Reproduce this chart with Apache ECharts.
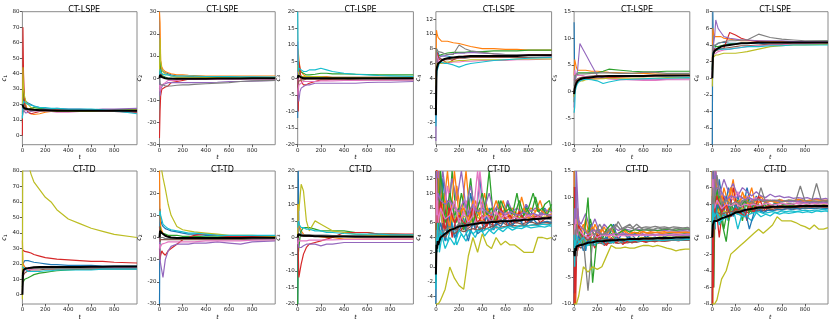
<!DOCTYPE html>
<html>
<head>
<meta charset="utf-8">
<script src="https://cdn.jsdelivr.net/npm/echarts@6/dist/echarts.min.js"></script>
<style>
html,body{margin:0;padding:0;background:#fff;}
#chart{width:831px;height:323px;}
</style>
</head>
<body>
<div id="chart"></div>
<script>
// ---------- time grids ----------
const T_SMOOTH = [0,5,10,20,30,50,75,100,150,200,250,300,400,500,600,700,800,999];
const T_NOISY = [0,5,10,15,20,40,80,120,160,200,240,280,320,360,400,440,480,520,560,600,640,680,720,760,800,840,880,920,960,999];
const T_NOISY2 = [0,3,8,13,25,30,60,100,140,180,220,260,300,340,380,420,460,500,540,580,620,660,700,740,780,820,860,900,940,980,999];

// ---------- tick labels ----------
const X_TICKS = [0,200,400,600,800];
const TICKS_C1 = [0,10,20,30,40,50,60,70,80];
const TICKS_C2 = [-30,-20,-10,0,10,20,30];
const TICKS_C3 = [-20,-15,-10,-5,0,5,10,15,20];
const TICKS_C4 = [-4,-2,0,2,4,6,8,10,12];
const TICKS_C5 = [-10,-5,0,5,10,15];
const TICKS_C6 = [-8,-6,-4,-2,0,2,4,6,8];

const TITLES = ['CT-LSPE','CT-TD'];
const Y_NAMES = ['1','2','3','4','5','6'];

// ---------- CT-LSPE ----------
const lspeC1 = [
 [10,25,22,24,22,21,20,19,18,17,17,16.5,16.5,16,16,15.5,15.5,15],
 [15,33,28,22,20,15,14,13.5,14,15,15.5,16,16,16.5,16,16,16,16],
 [8,40,30,20,18,17,17.5,18,17.5,17,17,16.5,16.5,16.5,16.5,16,16.5,16.5],
 [0,70,40,20,17,15,14,14.5,15.5,16,16,16.5,16,16,15.5,15.5,15.5,15],
 [12,18,16,15,14.5,15,15.5,16,16.5,17,17,17.5,17,17,16.5,17,17,17.5],
 [14,22,20,19,18,17,17,16.5,16.5,16,16,16,16,15.5,15.5,15.5,15.5,15.5],
 [16,20,18,17,16,16.5,16,16,15.5,15.5,15.5,15,15,15.5,15.5,15.5,16,16],
 [13,15,16,17,17,16.5,16,16,16,16,16,16,16,16,16,16,16,16],
 [20,44,30,25,22,20,18,17,16,16,16,15.5,15.5,15.5,15.5,16,16,16.5],
 [11,20,22,23,21,20,19.5,19,18,18,17.5,17.5,17,17,17,16.5,16,14]
];
const lspeC1Mean = [20,20,18,17.5,17.2,17,16.8,16.6,16.3,16.2,16.1,16,16,16,16,16,16,16];

const lspeC2 = [
 [5,12,6,4,3,2.5,2,1.5,1,1,0.8,0.7,0.6,0.5,0.5,0.4,0.4,0.3],
 [30,25,8,5,4,3,2.5,2,1.5,1.5,1.3,1.2,1,1,1,1,1,1],
 [-5,10,5,2,1,0.5,0,0,0,0,0,0,0,0,0.2,0.2,0.3,0.3],
 [-27,-15,-8,-5,-4.5,-4,-3.5,-2,-1.5,-1,-0.5,-0.5,0,0,0,0,0,0],
 [2,-8,-5,-4,-3,-2.5,-2,-2,-2,-2,-2,-2,-2,-1.8,-1.5,-1.5,-1.3,-1],
 [0,5,3,1,0.5,0,0,0,-0.5,-0.5,-0.5,-0.5,-0.3,-0.3,-0.3,-0.2,-0.2,-0.2],
 [-3,-6,-4,-3,-3,-2,-1,-1,-1,-0.5,-0.5,-0.5,-0.5,-0.5,-0.5,-0.5,-0.5,-0.5],
 [0,-2,-3,-3,-3,-3.5,-3.5,-3.5,-3.2,-3,-3,-2.8,-2.5,-2.2,-2,-1.5,-1.2,-1],
 [3,18,8,4,3,2,1.5,1,0.5,0.5,0.5,0.5,0.3,0.3,0.3,0.3,0.3,0.3],
 [1,4,3,2,2,1.5,1.5,1,1,1,1,1,0.8,0.8,0.7,0.6,0.6,0.5]
];
const lspeC2Mean = [0,1.5,1,0.5,0.2,0,-0.2,-0.3,-0.3,-0.3,-0.3,-0.2,-0.2,-0.1,-0.1,-0.1,0,0];

const lspeC3 = [
 [-12,3,2,1,0.5,0,0,0,0,0,0,0,0,0,0,0,0,0],
 [9,8,6,3,2,1,0.5,0.5,0.5,0.5,0.5,0.3,0.3,0.3,0.3,0.3,0.3,0.3],
 [2,5,3,2,1.5,1.5,1,1,1.2,1.5,1.5,1.3,1.3,1.2,1.1,1,1,1],
 [0,-10,5,3,-1,-2,-2,-1.5,-1,-0.5,-0.5,-0.3,-0.2,-0.2,0,0,0,0],
 [11,-5,-7,-4,-3,-2.5,-2,-2,-1.5,-1.5,-1.5,-1.5,-1.5,-1.5,-1.3,-1.2,-1.2,-1],
 [-3,-1,-1,-0.5,-0.5,-0.5,-0.3,-0.3,-0.3,-0.3,-0.3,-0.3,-0.3,-0.5,-0.5,-0.5,-0.5,-0.5],
 [-5,-3,-2,-2,-1.5,-1,-1,-1,-1,-0.8,-0.8,-0.8,-0.7,-0.7,-0.6,-0.6,-0.6,-0.5],
 [0,1,1,0.5,0.5,0.3,0.3,0.3,0.3,0.3,0.3,0.3,0.3,0.3,0.3,0.3,0.3,0.3],
 [4,2,1,1,0.5,0.5,0.5,0.5,0.5,0.5,0.2,0.2,0.2,0.2,0.2,0.2,0.2,0.2],
 [20,2,3,2.5,2.5,2,2,2.5,2.5,3,2.5,2,1.5,1.2,1,0.8,0.7,0.5]
];
const lspeC3Mean = [0,0.8,0.5,0.3,0.2,0,0,0,0,0,0,0,0,0,0,0,0,0];

const lspeC4 = [
 [-2,6,7,7.5,7,7,7,7,6.8,6.8,6.8,6.9,7,7,7,7.1,7.1,7.2],
 [2,10.5,10,9.5,9.5,9,9,9,8.8,8.7,8.5,8.3,8,8,7.9,7.9,7.8,7.8],
 [4,8,7.5,7,7,7.2,7.3,7.4,7.5,7.5,7.5,7.6,7.6,7.7,7.7,7.7,7.8,7.8],
 [0,7,7.5,7,6.5,6.5,6.3,6,6.5,6.8,7,7,7,7.1,7.1,7.1,7.2,7.2],
 [-4.5,5,6,6.5,6.8,7,7,7.2,7.3,7.4,7.4,7.5,7.4,7.3,7.2,7.2,7.1,7],
 [1,6,6.5,6.8,6.8,6.6,6.5,6.5,6.6,6.7,6.7,6.8,6.8,6.8,6.8,6.8,6.8,6.8],
 [3,7.5,7,6.5,6,6,6,6,6.2,6.2,6.3,6.3,6.4,6.4,6.4,6.5,6.5,6.6],
 [5,8,7.8,7.6,7.5,7.5,7.3,7.2,7.2,8.5,8,7.7,7.5,7.3,7.2,7.2,7.1,7.1],
 [3,5.5,6,6,6,6,6.2,6.2,6.3,6.4,6.4,6.5,6.5,6.5,6.5,6.6,6.6,6.6],
 [-2.5,4,5,5.5,6,6.2,6,6,5.8,5.5,5.8,6,6.2,6.4,6.5,6.6,6.7,6.8]
];
const lspeC4Mean = [-1,5,5.5,6,6.2,6.4,6.6,6.7,6.8,6.9,6.9,7,7,7,7,7,7.1,7.1];

const lspeC5 = [
 [13,3,2,1.5,1.8,2,2.2,2.5,2.7,2.8,2.8,2.9,2.9,2.9,2.9,2.9,2.9,3],
 [3,6,5.5,4.5,4,4,4,4,3.8,3.8,3.7,3.6,3.5,3.4,3.4,3.3,3.3,3.3],
 [-2,2,3,3,3.5,3.5,3.5,3.5,3.5,3.5,3.8,4.2,4,3.8,3.7,3.7,3.8,3.8],
 [-1,1,2,2,2,2,2.5,2.5,2.4,2.4,2.5,2.6,2.7,2.8,2.8,2.9,3,3],
 [-3,1,2,3,4,9,8,7,5,3,2.5,2.4,2.3,2.2,2.2,2.2,2.3,2.4],
 [0,1.5,2,2.2,2.4,2.6,2.7,2.8,2.9,3,3,3,3,3,3,3,3,3],
 [2,4,3.5,3,3,3,3,2.8,2.7,2.6,2.5,2.4,2.2,2.2,2.1,2.1,2.2,2.2],
 [1,3,3,3,3.2,3.3,3.3,3.3,3.4,3.5,3.5,3.5,3.4,3.4,3.6,3.6,3.4,3.4],
 [-1,0,1,1.5,1.8,2,2,2.2,2.3,2.4,2.4,2.5,2.5,2.5,2.5,2.5,2.6,2.6],
 [-4,-3,0,1,1.5,2,2.2,2.3,2.2,2,1.5,1.8,2.2,2.3,2.4,2.5,2.5,2.6]
];
const lspeC5Mean = [-0.5,0.5,1,1.6,2,2.3,2.5,2.6,2.7,2.8,2.8,2.9,2.9,2.9,2.9,3,3,3];

const lspeC6 = [
 [-8,8,3,3.5,4,4.2,4.3,4.3,4.2,4.2,4.2,4.2,4.2,4.1,4.1,4.1,4.1,4.1],
 [2,6,5.5,5,5,5,5,4.8,4.7,4.6,4.5,4.5,4.5,4.4,4.4,4.4,4.4,4.4],
 [1,4,4,4,3.8,3.8,3.9,4,4.1,4.1,4.2,4.2,4.3,4.3,4.3,4.4,4.4,4.5],
 [0,3,3.5,3.5,3.5,3.6,3.6,3.6,5.5,5.2,4.8,4.6,4.4,4.3,4.3,4.2,4.2,4.2],
 [0,3,4,5,7,6,5.5,5,4.8,4.7,4.6,4.6,4.5,4.5,4.5,4.4,4.4,4.4],
 [1,3,3,3.2,3.3,3.4,3.5,3.6,3.7,3.8,3.9,3.9,4,4.1,4.1,4.2,4.2,4.2],
 [0,2.5,3,3,3,3.2,3.3,3.4,3.5,3.6,3.7,3.8,3.9,4,4,4.1,4.1,4.2],
 [2,4,4,4,4,4.2,4.3,4.4,4.5,4.5,4.6,4.6,5.3,4.9,4.7,4.6,4.5,4.5],
 [-1,2,2.5,2.7,2.8,2.8,2.9,3,3,3,3.1,3.2,3.5,3.8,3.9,4,4,4.1],
 [1,3,3.2,3.3,3.4,3.5,3.5,3.5,3.5,3.6,3.7,3.8,3.8,3.9,3.9,4,4,4]
];
const lspeC6Mean = [0,2.5,3,3.3,3.5,3.6,3.8,3.9,4,4.1,4.2,4.2,4.3,4.3,4.3,4.3,4.3,4.3];

// ---------- CT-TD ----------
const tdC1 = [
 [10,20,21,22,22,22,21.5,21,20.5,20,19.5,19.5,19,19,19,18.5,18.5,18.5],
 [35,20,19,18,17,16.5,16.5,17,17,17.5,17.5,17.5,17.5,17.5,17.5,17.5,17.5,17.5],
 [5,8,9,10,10,11,12,13,14,14.5,15,15.5,16,16.5,16.5,17,17,17],
 [29,29,28.5,28,28,27.5,27,26,25,24,23.5,23,22.5,22,21.5,21.5,21,20.5],
 [12,15,16,16.5,17,17.5,17.5,17.5,17.5,17.5,17.5,17.5,17.5,17.5,17.5,17.5,17.5,17.5],
 [8,12,13,14,15,15.5,16,16,16,16.5,16.5,16.5,16.5,16.5,16.5,16.5,16.5,16.5],
 [0,14,15,16,16,16,16.5,16.5,17,17,17,17,17,17,17,17,17,17],
 [15,16,17,17,17,17,17,17,17,17,17,17,17,17,17,17,17,17],
 [-3,150,130,110,95,85,78,73,68,63,60,55,49,46,43,41,39,37],
 [18,19,18,17,16,15,15,15,15,15.5,15.5,16,16,16,16,16.5,16.5,16.5]
];
const tdC1Mean = [0,14,16,16.5,17,17.2,17.5,17.8,18,18,18,18,18,18,18.1,18.1,18.2,18.2];

const tdC2 = [
 [-30,13,8,6,5,4,3.5,3,2.5,2,1.5,1.5,1,1,0.5,0.5,0.5,0.5],
 [30,10,5,3,2,1,0.5,0,0,0,0,0,0,0,0,0,0,0],
 [-10,5,3,2,2,1.5,1,1,1,0.5,0.5,0.5,0.3,0.3,0.3,0.3,0.3,0.3],
 [-5,-10,-8,-6,-7,-8,-6,-5,-3,-1,0,1,1.5,1,0.5,0.5,0.5,0.5],
 [0,-10,-12,-15,-18,-10,-6,-4,-3,-3,-3,-2.5,-2.5,-2,-2.5,-3,-2,-1.5],
 [5,-2,-1,-1,-1,-1,-1,-1,-1,-1,-1,-1,-1,-1,-1,-1,-1,-1],
 [-3,-5,-4,-3,-3,-2.5,-2,-2,-2,-2,-2,-2,-1.5,-1.5,-1.5,-1.5,-1.2,-1],
 [2,0,0,0,0,-0.5,-0.5,-0.5,-0.5,-0.5,-0.5,-0.5,-0.5,-0.5,-0.5,-0.5,-0.5,-0.5],
 [30,35,33,30,27,22,15,10,5,3.5,3,2.5,2,1.5,1,1,1,0.5],
 [10,12,10,8,6,5,4,3.5,3,2.5,2,2,1.5,1,1,1,1,1]
];
const tdC2Mean = [0,3,2.5,2,1.5,0.8,0.3,0,-0.2,-0.2,-0.2,-0.2,-0.2,-0.2,-0.2,-0.2,-0.1,-0.1];

const tdC3 = [
 [-20,20,5,2,1,0.5,0.5,0.5,0.5,0.5,0.5,0.5,0.5,0.5,0.5,0.3,0.3,0.3],
 [10,5,4,3,2,1,0.5,0.5,0.5,0.2,0,0,-0.5,-0.5,-0.5,-0.5,-0.5,-0.5],
 [-20,-5,-3,0,2,3,3,3,2.5,2,2,2,2,1.5,1.5,1,1,0.8],
 [5,-5,-12,-10,-8,-5,-3,-2,-1.5,-1,-0.5,0,1.5,1.5,1.5,1,1,1],
 [0,-2,-3,-3,-3,-2.5,-2,-2,-2,-2.5,-2,-2,-1.5,-1.5,-1.5,-1.5,-1.5,-1.5],
 [2,1,0.5,0.5,0.5,0.5,0.3,0.3,0.3,0.3,0.3,0.3,0.3,0.3,0.3,0.3,0.3,0.3],
 [-2,-1,-1,-1,-1,-1,-1,-0.8,-0.8,-0.8,-0.7,-0.7,-0.6,-0.6,-0.5,-0.5,-0.5,-0.5],
 [3,1,1,1,1,0.8,0.8,0.8,0.7,0.7,0.7,0.6,0.6,0.6,0.5,0.5,0.5,0.5],
 [0,10,8,12,16,14,5,2,5,4,3,2,1.5,1,0.8,0.7,0.6,0.5],
 [3,5,4,3.5,3,3,2.5,2.5,2,2,1.5,1.5,1.2,1,1,1,0.8,0.8]
];
const tdC3Mean = [0,1,0.8,0.7,0.6,0.5,0.5,0.5,0.4,0.4,0.3,0.3,0.3,0.2,0.2,0.2,0.2,0.2];

const tdC4 = [
 [-5,13,5,8,4,6,3.5,7,4,5,6,3.5,6,4.5,5,7,5,6,5.5,6.5,5.5,6,6.5,5.5,6,6.5,5.8,6,6.2,6],
 [0,15,10,6,12,8,9,5,13,7,8,6,9,7.5,6,8,7,9,7,8,6.5,7.5,7,8,6.5,7,8,7.5,7,7.2],
 [13,2,9,12,5,13,6,10,7,8,5,9,6,8,10,7,8,6,9,7.5,8,7,9,7,8,10,7.5,8,7,8.5],
 [8,14,4,10,6,9,5,8,6,7,6,5.5,8,6,7,5.5,7,6,8,6.5,7,6,7.5,6.5,7,6.5,7,6.5,6.8,6.5],
 [12,13,8,9,10,9,8.5,9,8,7.5,9,7,8.5,7.5,8,7.5,7,8,7.5,7,7.5,7.2,7,7.5,7,7.3,7,7.2,7.1,7],
 [3,6,4,5,3.5,4.5,4,5,4.5,5,4.8,5,5.2,5,5.3,5.2,5.5,5.3,5.4,5.5,5.5,5.6,5.5,5.7,5.6,5.7,5.8,5.8,5.8,5.9],
 [6,12,7,9,6,8,6.5,7,9,6,7.5,6,7,13,6.5,7,6,7.5,6.5,7,6.2,6.8,6.5,6.6,7,6.5,6.8,6.6,6.7,6.6],
 [2,5,3,4,5,4.5,5,5.5,5,6,5.5,6,5.8,6,6.2,6,6.3,6.1,6.4,6.2,6.3,6.4,6.3,6.5,6.4,6.5,6.6,6.5,6.6,6.5],
 [-5,-5,-5,-5,-5,-4.5,-3,0,-1.5,-2.5,-3,1.5,4,2,4.5,3,2.5,4,3,3.5,3,3,2.5,2,2,2,4,4,3.8,4],
 [-3,4,2,6,3,5,2.5,4,3,5,4,5,4.5,5,4.8,5.2,5,5.5,5.2,5.4,5.5,5.3,5.6,5.5,5.6,5.7,5.6,5.8,5.7,5.8]
];
const tdC4More = [
 [2,10,4,9,13,6,12,5,9,4,8,5,10,6,12,6,8,5,7,6,9,5.5,7,6,8.5,6,7,6.5,8,6.5,7],
 [13,6,14,3,8,13,7,13,6,11,7,13,6,9,7,10,6.5,8,6,9,7,8,6.5,9.5,7,8,7.5,9,7,8,7.5],
 [-2,8,12,5,9,7,10,4.5,13,6,10,7,12,6,8,7,13,6,9,7,8.5,7,10,6.5,8,7,9.5,7,8.5,9,7.5],
 [5,13,2,8,4,10,5,9,4,7,5,6,8,5,6.5,5,7,5.5,6,7,5.5,6.5,6,7,6,6.5,7,6,6.5,6.8,6.5],
 [13,8,13,10,13,9,13,8,12,9,13,8,11,7.5,9,8,10,7.5,8.5,7,9,7.5,8,7.2,8.5,7.5,8,7.2,7.8,7.5,7.4],
 [0,4,6,3,5,4,6,4.5,5.5,5,6,5,5.5,6,5,5.5,6,5.5,5.8,6,5.6,5.9,6,5.8,6,6.1,5.9,6,6.1,6,6.1],
 [8,12,6,13,7,9,6,11,7,8,6,9,7,6,13,7,6.5,8,6.5,7,7.5,6.8,7,7.5,6.8,7.2,7,6.9,7.2,7,7],
 [4,7,5,6,4,5,4.5,6,5,5.5,6,5,6.5,5.5,6,5.8,6.2,6,6.3,6.1,6.2,6.4,6.2,6.3,6.5,6.3,6.5,6.4,6.6,6.5,6.4],
 [6,9,5,7,6,8,6,7.5,6,7,6.5,7,6,7,6.5,7,6.8,6.5,7,6.6,6.8,6.7,6.9,6.6,6.8,6.7,6.8,6.7,6.8,6.7,6.8],
 [3,1,5,3,6,2,5,3.5,6,3,4.5,3.5,5,4,5.5,4.2,5,4.5,5.2,4.8,5.4,5,5.3,5.2,5.5,5.3,5.4,5.5,5.4,5.6,5.5]
];
const tdC4Mean = [-1,3,2.5,3.5,3,4,4.5,5,5.2,5.5,5.6,5.7,5.8,5.9,6,6,6.1,6.1,6.2,6.2,6.2,6.3,6.3,6.4,6.4,6.5,6.5,6.6,6.6,6.7];

const tdC5 = [
 [-10,15,3,2,1,3,0,2,1,3,2,2.5,1.5,2.5,2,2,2.5,2,2.2,2.3,2,2.4,2.3,2.2,2.4,2.3,2.5,2.4,2.5,2.5],
 [15,-10,7,4,6,3,5,3,4.5,3,4,3,4.2,3,3.5,3.8,3,3.5,3.2,3.6,3.3,3.4,3.5,3.3,3.4,3.5,3.4,3.4,3.5,3.4],
 [10,-5,3,5,2,4,1,10,-6,3,2,4,5,3,3.5,4,3.5,4,3.8,4,3.9,4,3.8,4,4.1,4,3.9,4,4.1,4],
 [-10,12,-8,4,2,5,2,3,1.5,3,2,1,2.5,1.5,2,1.5,2,1.8,2,1.7,2,1.9,2,1.8,2,2.1,2,2,2.1,2],
 [5,8,6,4,15,5,4,3,4,3.5,3,3.2,3,3.3,3.1,3.2,3,3.1,3,3,2.9,3,2.9,3,3,2.9,3,3,3,3],
 [0,3,1,2,1.5,2,2.5,2,2.3,2,2.2,2.1,2.3,2,2.2,2,2.1,2.1,2,2.1,2,2.1,2,2.1,2,2,2.1,2,2,2],
 [2,5,3,6,2,4,3,2.5,3,2.5,3,2.8,3,2.7,2.9,2.8,2.9,2.8,3,2.9,3,2.9,3,2.9,3,3,2.9,3,3,3],
 [0,2,4,3,5,3,2,-7.5,2,4,3,3.5,4,5,4,4.5,5,4,4.5,4,4.2,4,4.3,4.1,4.2,4,4.2,4.1,4,4.1],
 [-10,-10,-10,-10,-10,-8.5,-3,-4,-3,-3.5,-3,-1,1,0.5,0.5,0.7,0.5,0.5,0.8,1,1,0.8,1,0.8,0.5,0.3,0,0.2,0.3,0.3],
 [3,-3,2,1,3,1.5,2.5,1,2,1.5,2,1.8,1.5,2,1.8,2,1.9,2,1.8,2,1.9,2,2,1.9,2,2.1,2,2,2.1,2.1]
];
const tdC5More = [
 [5,-8,8,2,6,1,4,0,5,2,4,1.5,3,5,2,3.5,2.5,3,2,3.5,2.5,3,2.8,3.2,2.6,3,2.8,3,2.9,3,2.8],
 [-10,10,-3,7,3,8,2,6,2,5,3,4.5,2.5,3.5,3,4,3,3.5,3.2,3.8,3.3,3.6,3.4,3.5,3.6,3.4,3.5,3.6,3.5,3.5,3.5],
 [12,3,-10,5,0,4,3,1,6,2,3,2,4,2.5,3,3.2,2.8,3,3.4,3,3.1,3.3,3,3.2,3.1,3.3,3.2,3.1,3.2,3.3,3.2],
 [-5,6,2,-10,4,0,3,1.5,2.5,0.5,3,1,2,1.5,2.5,1.2,2,1.5,1.8,2,1.6,1.9,1.7,2,1.8,1.9,2,1.9,2,2,2],
 [8,15,4,12,7,6,5,7,4,6,3.5,5,4,4.5,3.8,4.2,4,3.8,4.1,3.9,4,3.8,3.9,3.8,3.9,3.7,3.8,3.7,3.8,3.7,3.8],
 [1,2,0,1,-1,1,0.5,1.5,1,1.2,1.5,1.2,1.4,1.6,1.4,1.6,1.5,1.7,1.6,1.8,1.7,1.8,1.8,1.9,1.8,1.9,2,1.9,2,2,2],
 [4,-3,5,1,3,2,3.5,2,3,4,2.5,3.5,2.8,3.2,3,3.3,3.1,3.2,3,3.2,3.1,3.2,3.1,3.2,3.2,3.1,3.2,3.2,3.1,3.2,3.2],
 [2,6,3,5,2,4,2.5,3.5,4,3,5,3.5,4,3.5,5.5,4,4.5,4.2,5,4.3,4.5,4.4,4.6,4.4,4.5,4.3,4.5,4.4,4.3,4.4,4.2],
 [0,4,1,3,1.5,2.5,1,2,1.5,2.5,1.8,2.2,2,2.4,2.1,2.3,2.2,2.4,2.3,2.5,2.4,2.5,2.4,2.6,2.5,2.6,2.5,2.6,2.6,2.7,2.6],
 [-8,2,4,-2,6,1,3,0.5,2.5,1,2,1.2,2.2,1.5,2,1.6,1.9,1.8,2,1.9,2.1,2,2.1,2,2.2,2.1,2.2,2.2,2.3,2.2,2.3]
];
const tdC5Mean = [0,-1,0.5,0,0.8,1,1.2,1.5,1.6,1.8,1.8,1.9,2,2,2.1,2.1,2.2,2.2,2.2,2.3,2.3,2.3,2.4,2.4,2.4,2.4,2.5,2.5,2.5,2.5];

const tdC6 = [
 [-8,8,3,6,2,4,3,5,2.5,4,3,3.5,1,3,3.5,3,3.3,3.2,3.4,3.3,3.5,3.4,3.5,3.4,3.6,3.5,3.5,3.6,3.5,3.5],
 [8,-8,6,2,7,4,5,3.5,6,4,4.5,5,4,4.5,4.2,4.5,4.3,4.4,4.2,4.5,4.3,4.4,4.5,4.3,4.4,4.5,4.3,4.4,4.4,4.3],
 [2,8,0,5,3,6,2,-0.5,4,3,3.5,4.5,3,4,3.5,4,3.7,3.8,3.6,3.8,3.7,3.9,3.8,3.9,3.7,3.8,3.9,3.8,3.9,3.8],
 [-8,6,-6,4,3,5,3,4,2.5,3.5,3,2.5,4,3,5,3.5,3.8,3.6,3.7,3.8,3.6,3.7,3.8,3.7,3.8,3.7,3.8,3.8,3.7,3.8],
 [6,8,4,7,5,6,5.5,4.5,5,4.8,5,4.5,4.8,4.5,4.6,4.5,4.4,4.5,4.4,4.3,4.4,4.3,4.4,4.3,4.2,4.3,4.2,4.3,4.2,4.2],
 [0,3,2,3,2.5,3,2.8,3,3.1,3.2,3.3,3.3,3.4,3.4,3.5,3.5,3.5,3.6,3.5,3.6,3.6,3.6,3.7,3.6,3.7,3.7,3.7,3.7,3.7,3.7],
 [3,7,4,5,3.5,4.5,3.5,4,3.8,4.2,3.7,4,3.9,4,3.8,4,4.1,3.9,4,4.1,4,4,4.1,4,4.1,4,4.1,4,4.1,4],
 [4,6,3,4,5,7.5,4,4.5,4,4.3,4,4.5,4.2,4.4,4.6,4.3,4.5,4.4,4.5,4.3,4.4,4.5,4.4,6.2,4.4,4.3,4.4,4.3,4.4,4.3],
 [-8,-8,-8,-8,-8,-7.5,-5,-4,-2,-1.5,-1,-0.5,0,0.5,1,0.5,1,1.5,2.5,2,2,2,1.8,1.5,1.3,1,1.5,1,1,1.2],
 [1,4,2,3,2.5,3,2,2.5,2.8,3,2.7,2.5,2.8,3,3.1,2.9,3,3.1,3,3.2,3.1,3.2,3.1,3.2,3.3,3.2,3.3,3.3,3.4,3.3]
];
const tdC6More = [
 [5,-8,7,2,6,3,7,3,6,2.5,5,3,6,3.5,5,3,4.5,3.5,4.2,3.6,4,3.7,3.9,3.6,3.8,3.7,3.8,3.7,3.8,3.7,3.8],
 [-8,8,1,6,3,8,2,6,4,7,3,5.5,4,6,3.5,5,4,4.5,4.2,4.6,4.3,4.5,4.4,4.6,4.5,4.4,4.5,4.6,4.5,4.5,4.5],
 [8,0,5,-6,7,2,5,1,4,3,4.5,2,5,3,4,3.5,4.2,3.8,4,4.2,3.9,4.1,4,4.2,4.1,4,4.2,4.1,4.2,4.1,4.2],
 [2,6,-2,8,1,4,0,5,2,6,3,4,2,4.5,3,3.8,3.2,4,3.5,3.8,3.6,3.9,3.7,3.8,3.7,3.9,3.8,3.9,3.8,3.9,3.8],
 [7,8,5,8,6,8,5,7,5.5,6.5,5,6,5.5,5,5.5,5,4.8,5.2,4.9,5,4.8,4.9,4.7,4.8,4.7,4.8,4.6,4.7,4.6,4.7,4.6],
 [0,2,1,2.5,1.5,2.5,2,2.8,2.5,3,2.8,3.1,3,3.2,3.1,3.3,3.2,3.4,3.3,3.4,3.4,3.5,3.4,3.5,3.5,3.5,3.6,3.5,3.6,3.6,3.6],
 [4,7,3,6,4,5,6,4,5,4.5,5.5,4,5,4.5,4.8,4.3,4.6,4.4,4.5,4.3,4.4,4.3,4.4,4.2,4.3,4.2,4.3,4.2,4.3,4.2,4.3],
 [3,5,4,6,3,5,3.5,4.5,3,4,3.5,4.5,3.8,4.2,4,6,4.2,4.4,4.3,4.5,4.4,4.5,4.3,4.4,4.5,4.4,4.5,6.5,4.5,4.4,4.5],
 [1,3,2,4,2.5,3.5,2.8,3.2,3,3.4,3.2,3.5,3.3,3.6,3.4,3.5,3.6,3.5,3.7,3.6,3.7,3.8,3.7,3.8,3.8,3.9,3.8,3.9,3.9,4,3.9],
 [-2,5,0,3,1,4,1.5,3,2,3.5,1,3,2.5,2,3,2.5,2.8,2.6,3,2.8,3,2.9,3,3.1,3,3.1,3,3.2,3.1,3.2,3.1]
];
const tdC6Mean = [0,1.5,1.5,2,1.8,2,2.3,2.5,2.7,3,3.1,3.3,3.4,3.5,3.6,3.6,3.6,3.7,3.7,3.7,3.7,3.7,3.7,3.8,3.8,3.8,3.8,3.8,3.8,3.8];

// ---------- axis limits ----------
const Y_MIN_TOP = [-6,-30,-20,-5,-10,-8];
const Y_MAX_TOP = [80,30,20,13,15,8];
const Y_MIN_BOT = [-6,-30,-20,-5,-10,-8];
const Y_MAX_BOT = [80,30,20,13,15,8];
const X_MIN = 0, X_MAX = 999;

// ---------- assemble ----------
const COLORS = ['#1f77b4','#ff7f0e','#2ca02c','#d62728','#9467bd','#8c564b','#e377c2','#7f7f7f','#bcbd22','#17becf'];
const panels = [
  {batches: [[T_SMOOTH, lspeC1]], mean: lspeC1Mean, t: T_SMOOTH, ticks: TICKS_C1, min: Y_MIN_TOP[0], max: Y_MAX_TOP[0], w: 1.1},
  {batches: [[T_SMOOTH, lspeC2]], mean: lspeC2Mean, t: T_SMOOTH, ticks: TICKS_C2, min: Y_MIN_TOP[1], max: Y_MAX_TOP[1], w: 1.1},
  {batches: [[T_SMOOTH, lspeC3]], mean: lspeC3Mean, t: T_SMOOTH, ticks: TICKS_C3, min: Y_MIN_TOP[2], max: Y_MAX_TOP[2], w: 1.1},
  {batches: [[T_SMOOTH, lspeC4]], mean: lspeC4Mean, t: T_SMOOTH, ticks: TICKS_C4, min: Y_MIN_TOP[3], max: Y_MAX_TOP[3], w: 1.1},
  {batches: [[T_SMOOTH, lspeC5]], mean: lspeC5Mean, t: T_SMOOTH, ticks: TICKS_C5, min: Y_MIN_TOP[4], max: Y_MAX_TOP[4], w: 1.1},
  {batches: [[T_SMOOTH, lspeC6]], mean: lspeC6Mean, t: T_SMOOTH, ticks: TICKS_C6, min: Y_MIN_TOP[5], max: Y_MAX_TOP[5], w: 1.1},
  {batches: [[T_SMOOTH, tdC1]], mean: tdC1Mean, t: T_SMOOTH, ticks: TICKS_C1, min: Y_MIN_BOT[0], max: Y_MAX_BOT[0], w: 1.2},
  {batches: [[T_SMOOTH, tdC2]], mean: tdC2Mean, t: T_SMOOTH, ticks: TICKS_C2, min: Y_MIN_BOT[1], max: Y_MAX_BOT[1], w: 1.2},
  {batches: [[T_SMOOTH, tdC3]], mean: tdC3Mean, t: T_SMOOTH, ticks: TICKS_C3, min: Y_MIN_BOT[2], max: Y_MAX_BOT[2], w: 1.2},
  {batches: [[T_NOISY2, tdC4More], [T_NOISY, tdC4]], mean: tdC4Mean, t: T_NOISY, ticks: TICKS_C4, min: Y_MIN_BOT[3], max: Y_MAX_BOT[3], w: 1.3},
  {batches: [[T_NOISY2, tdC5More], [T_NOISY, tdC5]], mean: tdC5Mean, t: T_NOISY, ticks: TICKS_C5, min: Y_MIN_BOT[4], max: Y_MAX_BOT[4], w: 1.3},
  {batches: [[T_NOISY2, tdC6More], [T_NOISY, tdC6]], mean: tdC6Mean, t: T_NOISY, ticks: TICKS_C6, min: Y_MIN_BOT[5], max: Y_MAX_BOT[5], w: 1.3}
];

const FONT = 'DejaVu Sans';
const GL0 = 21.3, GSTEP = 138.2, GW = 115.7, GH = 133, GT = [11.7, 171];

const grids = [], xAxes = [], yAxes = [], series = [], titles = [];
panels.forEach((p, k) => {
  const row = Math.floor(k / 6), col = k % 6;
  const left = GL0 + col * GSTEP;
  grids.push({left: left, top: GT[row], width: GW, height: GH, show: true,
    borderColor: '#8a8a8a', borderWidth: 1, backgroundColor: 'transparent', containLabel: false});
  titles.push({text: TITLES[row], left: left + GW / 2, top: GT[row] - 10.5, textAlign: 'center',
    textStyle: {fontFamily: FONT, fontSize: 8, fontWeight: 'normal', color: '#000'}});
  xAxes.push({type: 'value', gridIndex: k, min: X_MIN, max: X_MAX,
    name: 't', nameLocation: 'middle', nameGap: 10,
    nameTextStyle: {fontFamily: FONT, fontSize: 6, fontStyle: 'italic', color: '#000'},
    axisLine: {show: false, onZero: false}, splitLine: {show: false},
    axisTick: {show: true, inside: false, length: 2.5, lineStyle: {color: '#333', width: 0.8}, customValues: X_TICKS},
    axisLabel: {fontFamily: FONT, fontSize: 5.5, color: '#222', margin: 3, customValues: X_TICKS}});
  yAxes.push({type: 'value', gridIndex: k, min: p.min, max: p.max,
    name: '{c|c}{s|' + Y_NAMES[col] + '}', nameLocation: 'middle', nameGap: col === 0 ? 12 : 11, nameRotate: 90,
    nameTextStyle: {rich: {c: {fontFamily: FONT, fontSize: 6.5, fontStyle: 'italic', color: '#000'},
                           s: {fontFamily: FONT, fontSize: 4.5, color: '#000', verticalAlign: 'bottom', padding: [3,0,0,0]}}},
    axisLine: {show: false, onZero: false}, splitLine: {show: false},
    axisTick: {show: true, inside: false, length: 2.5, lineStyle: {color: '#333', width: 0.8}, customValues: p.ticks},
    axisLabel: {fontFamily: FONT, fontSize: 5.5, color: '#222', margin: 3, customValues: p.ticks}});
  p.batches.forEach(([ts, runs]) => {
    runs.forEach((ys, j) => {
      series.push({type: 'line', xAxisIndex: k, yAxisIndex: k, showSymbol: false, symbol: 'none',
        clip: true, silent: true, data: ts.map((t, i) => [t, ys[i]]),
        lineStyle: {color: COLORS[j % 10], width: p.w}, z: 2});
    });
  });
  series.push({type: 'line', xAxisIndex: k, yAxisIndex: k, showSymbol: false, symbol: 'none',
    clip: true, silent: true, data: p.t.map((t, i) => [t, p.mean[i]]),
    lineStyle: {color: '#000', width: 2}, z: 3});
});

const chart = echarts.init(document.getElementById('chart'), null, {renderer: 'canvas'});
chart.setOption({
  animation: false,
  backgroundColor: '#fff',
  title: titles,
  grid: grids,
  xAxis: xAxes,
  yAxis: yAxes,
  series: series
});
</script>
</body>
</html>
